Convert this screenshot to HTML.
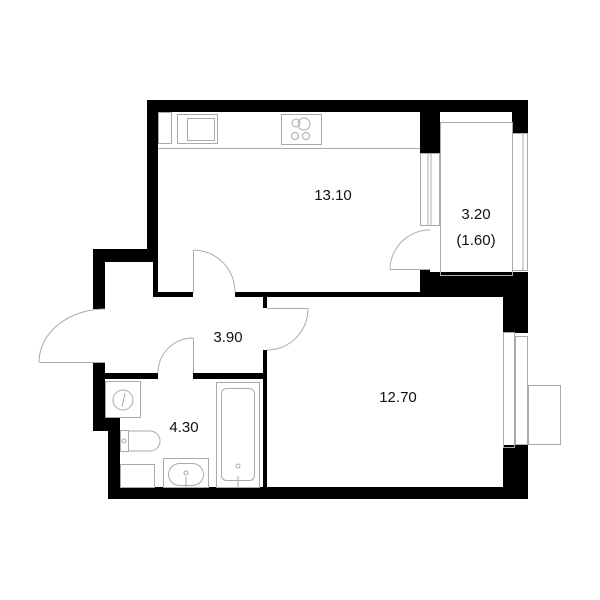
<!DOCTYPE html>
<html><head><meta charset="utf-8"><style>
html,body{margin:0;padding:0;background:#fff}
svg{display:block}
text{font-family:"Liberation Sans",sans-serif;font-size:15px;fill:#111}
</style></head><body>
<svg width="600" height="600" viewBox="0 0 600 600" xmlns="http://www.w3.org/2000/svg">
<g fill="#000">
<rect x="147" y="100" width="381" height="12"/>
<rect x="147" y="100" width="11" height="162"/>
<rect x="93" y="249" width="65" height="13"/>
<rect x="153" y="249" width="5" height="48"/>
<rect x="93" y="249" width="12" height="60"/>
<rect x="93" y="362" width="12" height="69"/>
<rect x="93" y="418" width="27" height="13"/>
<rect x="108" y="418" width="12" height="81"/>
<rect x="153" y="292" width="40" height="5"/>
<rect x="235" y="292" width="190" height="5"/>
<rect x="263" y="292" width="4" height="16"/>
<rect x="263" y="350" width="4" height="138"/>
<rect x="105" y="373" width="53" height="6"/>
<rect x="193" y="373" width="74" height="6"/>
<rect x="108" y="487" width="420" height="12"/>
<rect x="420" y="100" width="20" height="53"/>
<rect x="512" y="100" width="16" height="33"/>
<rect x="420" y="272" width="108" height="25"/>
<rect x="420" y="270" width="10" height="5"/>
<rect x="503" y="272" width="25" height="61"/>
<rect x="503" y="445" width="25" height="54"/>
<rect x="263" y="292" width="240" height="5"/>
</g>
<g fill="none" stroke="#aaa" stroke-width="1">
<rect x="440.5" y="122.5" width="72" height="153"/>
<rect x="512.5" y="133.5" width="15" height="137"/>
<line x1="523" y1="133" x2="523" y2="270"/>
<rect x="420.5" y="153.5" width="19" height="72"/>
<line x1="428" y1="153" x2="428" y2="225"/>
<line x1="431" y1="153" x2="431" y2="225"/>
<line x1="390" y1="269.5" x2="430" y2="269.5"/>
<path d="M390 269.5 A40 40 0 0 1 430 230"/>
<line x1="158" y1="148.5" x2="420" y2="148.5"/>
<rect x="158.5" y="112.5" width="13" height="31"/>
<rect x="177.5" y="114.5" width="40" height="29"/>
<rect x="187.5" y="118.5" width="27" height="22"/>
<rect x="281.5" y="114.5" width="40" height="30"/>
<circle cx="296" cy="123" r="4"/>
<circle cx="304" cy="124" r="6"/>
<circle cx="295" cy="136" r="3.5"/>
<circle cx="306" cy="136" r="3.5"/>
<line x1="193.5" y1="250" x2="193.5" y2="293"/>
<path d="M193.5 250 A42 42 0 0 1 235 293"/>
<line x1="267" y1="308.5" x2="308" y2="308.5"/>
<path d="M308 308.5 A41 41 0 0 1 267 350"/>
<line x1="39" y1="362.5" x2="105" y2="362.5"/>
<path d="M105 309 A66 53 0 0 0 39 362"/>
<line x1="193.5" y1="338" x2="193.5" y2="373"/>
<path d="M193.5 338 A35 35 0 0 0 158 373"/>
<rect x="105.5" y="381.5" width="35" height="36"/>
<circle cx="123" cy="400" r="10"/>
<line x1="125" y1="393" x2="122" y2="407"/>
<rect x="120.5" y="430.5" width="8" height="21"/>
<path d="M128.5 431 H150 A10 10 0 0 1 150 451 H128.5"/>
<circle cx="124" cy="441" r="2"/>
<rect x="120.5" y="464.5" width="34" height="23"/>
<rect x="163.5" y="458.5" width="45" height="29"/>
<rect x="168.5" y="463.5" width="35" height="22" rx="11"/>
<circle cx="186" cy="473" r="2"/>
<line x1="186" y1="477" x2="186" y2="487"/>
<rect x="216.5" y="382.5" width="43" height="105"/>
<rect x="221.5" y="388.5" width="33" height="92" rx="5"/>
<circle cx="238" cy="466" r="2"/>
<line x1="238" y1="476" x2="238" y2="487"/>
<rect x="503.5" y="332.5" width="11" height="115"/>
<rect x="515.5" y="336.5" width="12" height="108"/>
<rect x="528.5" y="385.5" width="32" height="59"/>
</g>
<text x="333" y="200" text-anchor="middle">13.10</text>
<text x="476" y="219" text-anchor="middle">3.20</text>
<text x="476" y="245" text-anchor="middle">(1.60)</text>
<text x="228" y="342" text-anchor="middle">3.90</text>
<text x="184" y="432" text-anchor="middle">4.30</text>
<text x="398" y="402" text-anchor="middle">12.70</text>
</svg>
</body></html>
